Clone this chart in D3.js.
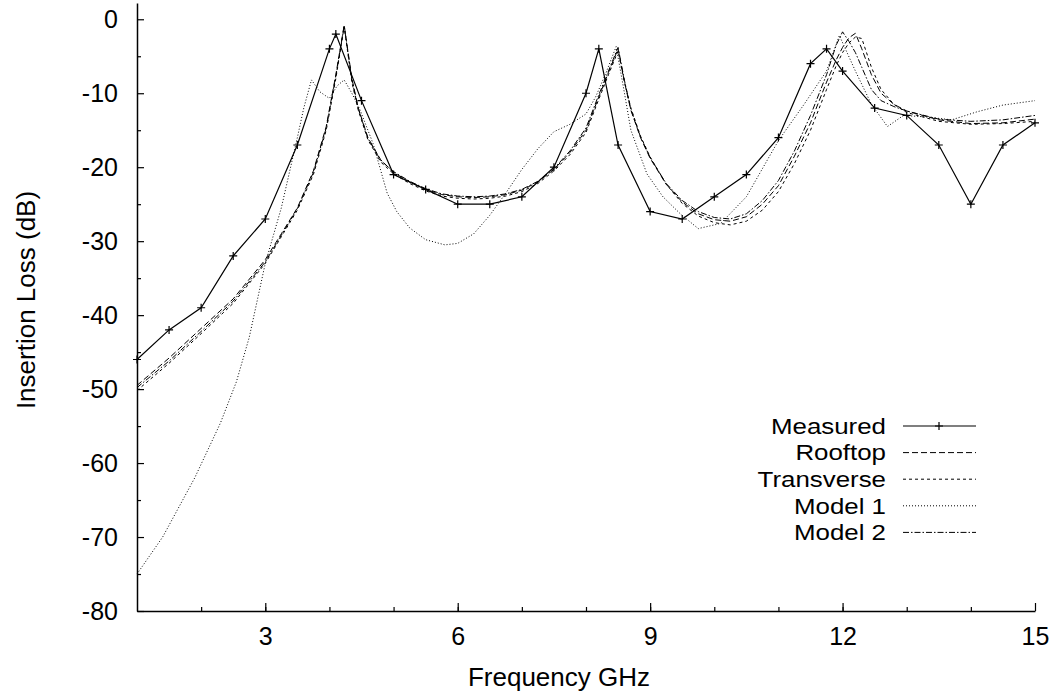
<!DOCTYPE html>
<html>
<head>
<meta charset="utf-8">
<script src="https://cdn.jsdelivr.net/npm/d3@7"></script>
<style>
  body { margin: 0; background: #fff; }
  text { font-family: "Liberation Sans", Arial, sans-serif; fill: #000; }
</style>
</head>
<body>
<div id="graphic"></div>
<script>
// measured insertion loss (+ markers)
let measuredFreq = [1, 1.5, 2, 2.5, 3, 3.5, 4, 4.1, 4.5, 5, 5.5, 6, 6.5, 7, 7.5, 8, 8.2, 8.5,
  9, 9.5, 10, 10.5, 11, 11.5, 11.75, 12, 12.5, 13, 13.5, 14, 14.5, 15];
let measuredLoss = [-46, -42, -39, -32, -27, -17, -4, -2, -11, -21, -23, -25, -25, -24, -20, -10, -4, -17,
  -26, -27, -24, -21, -16, -6, -4, -7, -12, -13, -17, -25, -17, -14];

// frequency grid shared by rooftop, transverse and model 2
let modelFreq = [1, 1.5, 2, 2.5, 3, 3.25, 3.5, 3.75, 3.95, 4.1, 4.23, 4.35, 4.45, 4.6, 4.8,
  5, 5.25, 5.5, 5.75, 6, 6.25, 6.5, 6.75, 7, 7.25, 7.5, 7.75, 8, 8.2, 8.35, 8.5, 8.6, 8.7, 8.85,
  9, 9.25, 9.5, 9.75, 10, 10.25, 10.5, 10.75, 11, 11.25, 11.5, 11.75, 11.9, 12, 12.1, 12.2, 12.3,
  12.45, 12.6, 12.8, 13, 13.5, 14, 14.5, 15];
let rooftopLoss = [-49.5, -45.8, -41.8, -37.8, -32.5, -29, -25.5, -20.5, -14.5, -7.5, -0.8, -8, -12, -16, -19,
  -20.7, -22, -23, -23.7, -24, -24.1, -24, -23.7, -23.1, -22, -20.3, -18, -15, -10.5, -7.2, -4, -8.5, -12.3, -16,
  -18.8, -22.3, -24.7, -26.3, -27.1, -27.3, -26.7, -25, -22.5, -18.5, -14, -8.5, -5.5, -3.8, -2.5, -1.9, -4,
  -7.5, -10, -11.5, -12.4, -13.6, -14.1, -14, -13.5];
let transverseLoss = [-50.2, -46.5, -42.5, -38.4, -33, -29.4, -25.8, -21, -15, -8, -1, -8.5, -12.3, -16.3, -19.3,
  -20.9, -22.2, -23.2, -23.9, -24.2, -24.3, -24.2, -23.9, -23.3, -22.2, -20.5, -18.3, -15.3, -10.8, -7.5, -4.3, -8.5, -12, -15.8,
  -18.6, -22.3, -24.9, -26.6, -27.5, -27.8, -27.3, -25.8, -23.3, -19.5, -15, -9.5, -6.3, -4.5, -3.2, -2.4, -2.6,
  -6.5, -9.5, -11.5, -12.6, -13.8, -14.2, -14.1, -13.8];
let model2Loss = [-49.8, -46.2, -42.2, -38.1, -32.8, -29.2, -25.6, -20.7, -14.7, -7.7, -0.9, -8.2, -12.1, -16.1, -19.1,
  -20.6, -21.9, -22.9, -23.6, -23.9, -24, -23.9, -23.6, -23, -21.9, -20.2, -17.8, -14.7, -10.2, -7, -3.8, -8.3, -12.2, -15.9,
  -18.7, -22.2, -24.5, -26, -26.8, -27, -26.3, -24.5, -21.8, -17.8, -13, -7.5, -3.5, -1.7, -3, -4.5, -6.5,
  -9.5, -11, -11.8, -12.4, -13.5, -13.8, -13.6, -13];

// model 1 has its own grid
let model1Freq = [1, 1.4, 1.9, 2.3, 2.55, 2.75, 3, 3.25, 3.5, 3.6, 3.72, 3.85, 4, 4.12, 4.23, 4.35, 4.48, 4.68,
  4.9, 5.05, 5.25, 5.5, 5.8, 6, 6.25, 6.5, 6.75, 7, 7.25, 7.5, 7.75, 8, 8.15, 8.3, 8.47, 8.6, 8.7,
  8.95, 9.2, 9.47, 9.75, 10.1, 10.5, 11, 11.4, 11.75, 11.95, 12.2, 12.45, 12.7, 12.95, 13.3, 13.7, 14.1, 14.5, 15];
let model1Loss = [-75, -70, -62, -54.6, -49, -43, -33, -25.5, -16, -12, -8.2, -9.8, -10.7, -9, -8.2, -10, -12.3, -16.8,
  -23.5, -26, -28.2, -29.8, -30.5, -30.3, -29, -26.5, -23.5, -20.3, -17.5, -15.2, -14.2, -12.8, -10.5, -7.5, -3.7, -10, -15,
  -20.9, -24, -26.3, -28.3, -27.6, -24, -16.4, -11.5, -7, -2.2, -7, -11.5, -14.5, -13, -13.2, -13.6, -12.5, -11.6, -11];

let seriesNames = ["Measured", "Rooftop", "Transverse", "Model 1", "Model 2"];
let xTicks = [3, 6, 9, 12, 15];
let yTicks = [0, -10, -20, -30, -40, -50, -60, -70, -80];

let series = [
  {name: "Measured", freq: measuredFreq, loss: measuredLoss, dash: null, marker: true},
  {name: "Rooftop", freq: modelFreq, loss: rooftopLoss, dash: "6,3"},
  {name: "Transverse", freq: modelFreq, loss: transverseLoss, dash: "3,3"},
  {name: "Model 1", freq: model1Freq, loss: model1Loss, dash: "1,2"},
  {name: "Model 2", freq: modelFreq, loss: model2Loss, dash: "6,2,1.5,2"}
];

let svg = d3.select("#graphic")
  .append("svg")
    .attr("width", 1052)
    .attr("height", 694);

let x = d3.scaleLinear().domain([1, 15]).range([137, 1035]);
let y = d3.scaleLinear().domain([-80, 2.2]).range([611, 3]);

// minor ticks
svg.append("g")
  .attr("transform", "translate(0,611)")
  .call(d3.axisBottom(x).tickValues(d3.range(2, 15, 1)).tickSize(-4).tickFormat(""))
  .call(g => g.select(".domain").remove());
svg.append("g")
  .attr("transform", "translate(137,0)")
  .call(d3.axisLeft(y).tickValues(d3.range(-75, 1, 10)).tickSize(-4).tickFormat(""))
  .call(g => g.select(".domain").remove());

// X axis
svg.append("g")
  .attr("transform", "translate(0,611)")
  .call(d3.axisBottom(x).tickValues(xTicks).tickFormat(d => String(d))
    .tickSizeInner(-8).tickSizeOuter(0).tickPadding(16))
  .call(g => g.selectAll("text").style("font-size", "25px").style("font-family", null));

// Y axis (plain hyphen for negatives)
svg.append("g")
  .attr("transform", "translate(137,0)")
  .call(d3.axisLeft(y).tickValues(yTicks).tickFormat(d => String(d))
    .tickSizeInner(-7).tickSizeOuter(0).tickPadding(19))
  .call(g => g.selectAll("text").style("font-size", "25px").style("font-family", null));

svg.selectAll(".domain").attr("stroke-width", 1.5);
svg.selectAll(".tick line").attr("stroke-width", 1.2);

// axis titles
svg.append("text")
  .attr("x", 559).attr("y", 686)
  .attr("text-anchor", "middle")
  .style("font-size", "26px")
  .text("Frequency GHz");

svg.append("text")
  .attr("transform", "translate(35,300)rotate(-90)")
  .attr("text-anchor", "middle")
  .style("font-size", "26px")
  .text("Insertion Loss (dB)");

let line = d3.line()
  .x(d => x(d[0]))
  .y(d => y(d[1]));

series.forEach(function(s) {
  let pts = s.freq.map((f, i) => [f, s.loss[i]]);
  svg.append("path")
    .datum(pts)
    .attr("fill", "none")
    .attr("stroke", "#000")
    .attr("stroke-width", s.marker ? 1.2 : 1)
    .attr("stroke-dasharray", s.dash)
    .attr("d", line);
  if (s.marker) {
    svg.selectAll(".plus")
      .data(pts)
      .enter()
      .append("path")
        .attr("class", "plus")
        .attr("d", d => "M" + (x(d[0]) - 4) + "," + y(d[1]) + "h8M" + x(d[0]) + "," + (y(d[1]) - 4) + "v8")
        .attr("stroke", "#000")
        .attr("stroke-width", 1.2);
  }
});

// Legend - text a bit narrower vertically, stretched sideways like the original
let legend = svg.append("g");
seriesNames.forEach(function(name, i) {
  let s = series.find(d => d.name == name);
  let ly = 426 + i * 26.6;
  legend.append("text")
    .attr("transform", "translate(886," + ly + ") scale(1.15,1)")
    .attr("dy", "0.35em")
    .attr("text-anchor", "end")
    .style("font-size", "22.5px")
    .text(name);
  legend.append("line")
    .attr("x1", 903).attr("x2", 976)
    .attr("y1", ly).attr("y2", ly)
    .attr("stroke", "#000")
    .attr("stroke-width", s.marker ? 1.2 : 1)
    .attr("stroke-dasharray", s.dash);
  if (s.marker) {
    legend.append("path")
      .attr("d", "M935," + ly + "h8M939," + (ly - 4) + "v8")
      .attr("stroke", "#000")
      .attr("stroke-width", 1.2);
  }
});
</script>
</body>
</html>
